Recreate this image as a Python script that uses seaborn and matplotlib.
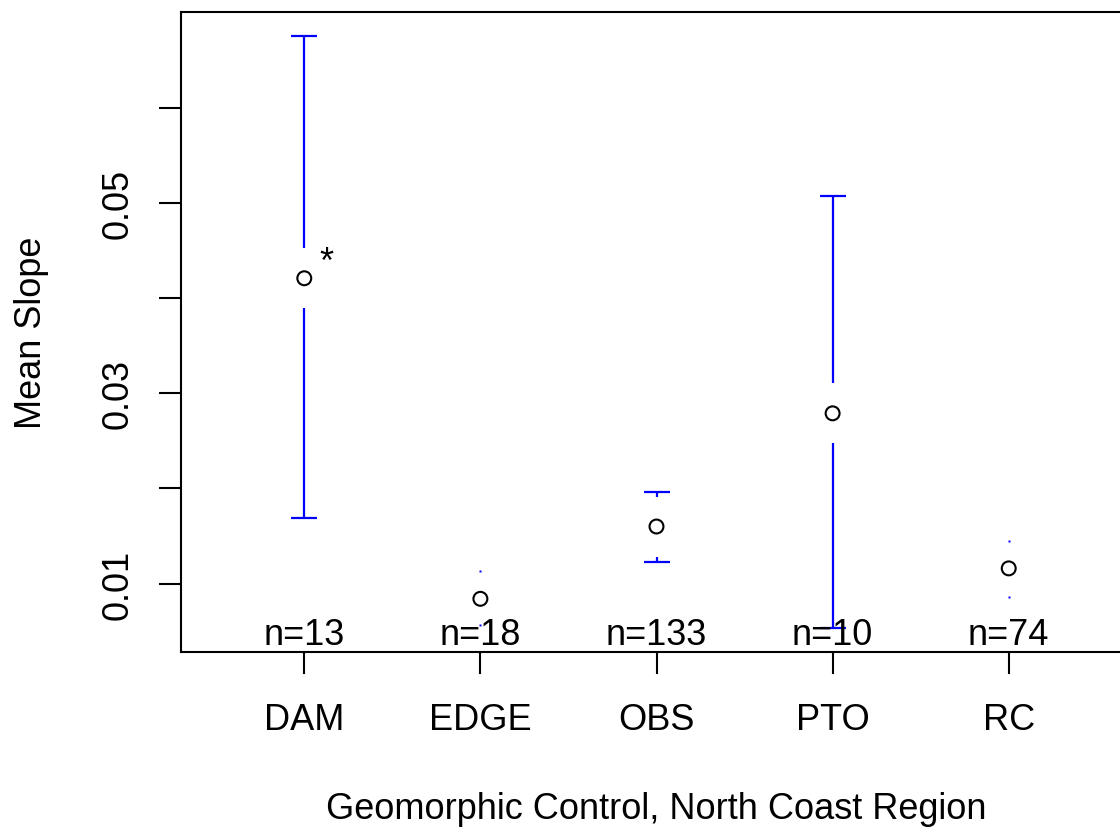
import numpy as np
import pandas as pd
import matplotlib
matplotlib.use("Agg")
import matplotlib.pyplot as plt
import matplotlib.transforms as mtransforms
import seaborn as sns

# Group means of slope with 95% confidence limits
groups = ["DAM", "EDGE", "OBS", "PTO", "RC"]
means = [0.0421, 0.0084, 0.0160, 0.0279, 0.0116]
ci_lower = [0.0169, 0.0056, 0.0123, 0.0053, 0.0086]
ci_upper = [0.0676, 0.0113, 0.0196, 0.0507, 0.0145]
counts = [13, 18, 133, 10, 74]
y_ticks = [0.01, 0.02, 0.03, 0.04, 0.05, 0.06]
y_tick_labels = ["0.01", "", "0.03", "", "0.05", ""]
flagged = "DAM"

sns.set_style("white")
plt.rcParams["font.family"] = ["Liberation Sans", "DejaVu Sans"]
plt.rcParams["text.color"] = "black"
plt.rcParams["axes.labelcolor"] = "black"

FS = 26
W, H, DPI = 1120, 829, 100
fig = plt.figure(figsize=(W / DPI, H / DPI), dpi=DPI)
ax = fig.add_axes([181 / W, (H - 653) / H, (1132 - 181) / W, (653 - 13) / H])

df = pd.DataFrame({"pos": np.arange(len(groups)), "group": groups,
                   "mean": means, "lo": ci_lower, "hi": ci_upper, "n": counts})

# axis limits with 4% padding around the data extent
lo_all, hi_all = min(ci_lower), max(ci_upper)
pad = 0.04 * (hi_all - lo_all)
ax.set_ylim(lo_all - pad, hi_all + pad)
ax.set_xlim(-0.7, len(groups) - 0.3)

# pixel -> data conversions for gaps and caps
ax_h_px = ax.get_position().height * H
ax_w_px = ax.get_position().width * W
dy_per_px = (ax.get_ylim()[1] - ax.get_ylim()[0]) / ax_h_px
dx_per_px = (ax.get_xlim()[1] - ax.get_xlim()[0]) / ax_w_px
gap = 30 * dy_per_px
cap = 13 * dx_per_px

blue = "#0000FF"
for _, r in df.iterrows():
    x = r["pos"]
    for end, sign in ((r["hi"], 1), (r["lo"], -1)):
        start = r["mean"] + sign * gap
        if (end - start) * sign > 0:
            ax.plot([x, x], [start, end], color=blue, lw=1.6, solid_capstyle="butt")
            ax.plot([x - cap, x + cap], [end, end], color=blue, lw=1.6, solid_capstyle="butt")
        else:
            ax.plot([x], [end], marker="s", ms=1.8, color=blue, mec="none")

sns.scatterplot(data=df, x="pos", y="mean", ax=ax, s=100, marker="o",
                facecolor="none", edgecolor="black", linewidth=1.5, zorder=3)

# sample sizes along the bottom
trans = mtransforms.blended_transform_factory(ax.transData, ax.transAxes)
for _, r in df.iterrows():
    ax.text(r["pos"], 0.027, f"n={r['n']}", transform=trans, ha="center",
            va="center", fontsize=FS, color="black")

# significance marker
fr = df[df["group"] == flagged].iloc[0]
ax.annotate("*", (fr["pos"], fr["mean"]), xytext=(22, 16), textcoords="offset pixels",
            ha="center", va="center", fontsize=FS, color="black")

ax.set_xticks(df["pos"])
ax.set_xticklabels(groups)
ax.set_yticks(y_ticks)
ax.set_yticklabels(y_tick_labels, rotation=90, va="center")
ax.tick_params(axis="both", direction="out", length=16, width=1.5,
               labelsize=FS, colors="black", bottom=True, left=True)
ax.tick_params(axis="x", pad=20)
ax.tick_params(axis="y", pad=17)
for s in ax.spines.values():
    s.set_visible(True)
    s.set_color("black")
    s.set_linewidth(1.5)

ax.set_xlabel("Geomorphic Control, North Coast Region", fontsize=FS, labelpad=39)
ax.set_ylabel("Mean Slope", fontsize=FS, labelpad=37)
ax.grid(False)

fig.savefig("out.png", dpi=DPI)
